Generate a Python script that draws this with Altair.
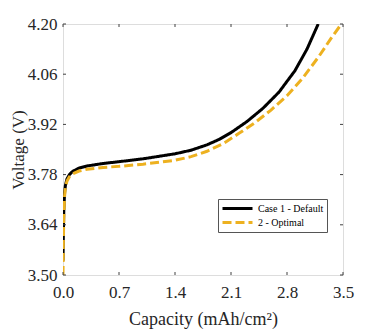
import altair as alt
import pandas as pd

# Case 1 - Default (solid black)
cap_default = [0.0, 0.005, 0.01, 0.02, 0.03, 0.05, 0.08, 0.12, 0.2, 0.3, 0.5, 0.7,
               1.0, 1.4, 1.6, 1.8, 1.95, 2.1, 2.3, 2.5, 2.7, 2.9, 3.05, 3.19]
volt_default = [3.54, 3.62, 3.68, 3.73, 3.75, 3.768, 3.780, 3.789, 3.798, 3.804, 3.811, 3.816,
                3.824, 3.838, 3.848, 3.863, 3.878, 3.897, 3.928, 3.965, 4.01, 4.07, 4.13, 4.20]

# 2 - Optimal (dashed orange)
cap_opt = [0.0, 0.005, 0.01, 0.02, 0.03, 0.05, 0.08, 0.12, 0.2, 0.3, 0.5, 0.7, 1.0, 1.4,
           1.6, 1.8, 2.0, 2.2, 2.4, 2.6, 2.8, 3.0, 3.2, 3.35, 3.48]
volt_opt = [3.50, 3.60, 3.66, 3.72, 3.745, 3.762, 3.774, 3.782, 3.790, 3.795, 3.800, 3.803,
            3.809, 3.820, 3.830, 3.845, 3.866, 3.895, 3.925, 3.96, 4.00, 4.05, 4.11, 4.16, 4.20]

series_names = ["Case 1 - Default", "2 - Optimal"]
series_colors = ["#000000", "#EDB120"]
x_ticks = [0.0, 0.7, 1.4, 2.1, 2.8, 3.5]
y_ticks = [3.50, 3.64, 3.78, 3.92, 4.06, 4.20]

W, H = 280, 251
FONT = "Liberation Serif"

df_def = pd.DataFrame({"cap": cap_default, "volt": volt_default, "case": series_names[0], "i": range(len(cap_default))})
df_opt = pd.DataFrame({"cap": cap_opt, "volt": volt_opt, "case": series_names[1], "i": range(len(cap_opt))})
df_xt = pd.DataFrame({"t": x_ticks})
df_yt = pd.DataFrame({"t": y_ticks})

xscale = alt.Scale(domain=[0, 3.5], nice=False, zero=False)
yscale = alt.Scale(domain=[3.5, 4.2], nice=False, zero=False)
color = alt.Color("case:N", scale=alt.Scale(domain=series_names, range=series_colors),
                  legend=alt.Legend(title=None, orient="none", legendX=155, legendY=175,
                                    symbolType="M-3,0L3,0", symbolSize=100, symbolStrokeWidth=3,
                                    symbolOffset=10,
                                    labelFont=FONT, labelFontSize=10, labelColor="#000000",
                                    strokeColor="#555555", fillColor="white", padding=3,
                                    rowPadding=1, labelLimit=200, labelOffset=14))
dash = alt.StrokeDash("case:N", scale=alt.Scale(domain=series_names, range=[[1, 0], [9, 4]]), legend=None)

xax = alt.Axis(values=x_ticks, format=".1f", title="Capacity (mAh/cm²)", labelPadding=9, titlePadding=10,
               titleFontSize=18)
yax = alt.Axis(values=y_ticks, format=".2f", title="Voltage (V)", labelPadding=6, titlePadding=0,
               titleFontSize=17)

line_def = alt.Chart(df_def).mark_line(strokeWidth=3, clip=True).encode(
    x=alt.X("cap:Q", scale=xscale, axis=xax),
    y=alt.Y("volt:Q", scale=yscale, axis=yax),
    order="i:Q", color=color, strokeDash=dash)
line_opt = alt.Chart(df_opt).mark_line(strokeWidth=3, clip=True).encode(
    x=alt.X("cap:Q", scale=xscale, axis=xax),
    y=alt.Y("volt:Q", scale=yscale, axis=yax),
    order="i:Q", color=color, strokeDash=dash)

tk = dict(color="#404040", strokeWidth=1)
xt_bot = alt.Chart(df_xt).mark_rule(**tk).encode(x=alt.X("t:Q", scale=xscale, axis=xax), y=alt.value(H), y2=alt.value(H - 3))
xt_top = alt.Chart(df_xt).mark_rule(**tk).encode(x=alt.X("t:Q", scale=xscale, axis=xax), y=alt.value(0), y2=alt.value(3))
yt_l = alt.Chart(df_yt).mark_rule(**tk).encode(y=alt.Y("t:Q", scale=yscale, axis=yax), x=alt.value(0), x2=alt.value(3))
yt_r = alt.Chart(df_yt).mark_rule(**tk).encode(y=alt.Y("t:Q", scale=yscale, axis=yax), x=alt.value(W), x2=alt.value(W - 3))

chart = alt.layer(line_def, line_opt, xt_bot, xt_top, yt_l, yt_r).properties(
    width=W, height=H,
    autosize=alt.AutoSizeParams(type="none"),
    padding={"left": 55, "top": 16, "right": 20, "bottom": 57},
).configure_view(stroke="#a6a6a6", strokeWidth=1.2).configure(background="white").configure_axis(
    tickSize=0, domain=False, grid=False, labelFlush=False, labelOverlap=False,
    labelFont=FONT, labelFontSize=17, labelColor="#262626",
    titleFont=FONT, titleFontWeight="normal", titleColor="#262626",
)

chart.save("out.html", embed_options={"renderer": "svg", "actions": False})
